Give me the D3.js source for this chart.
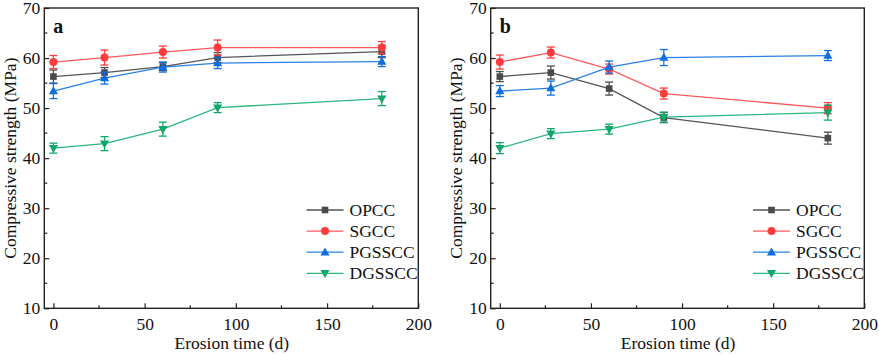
<!DOCTYPE html>
<html><head><meta charset="utf-8">
<script src="https://cdn.jsdelivr.net/npm/d3@7"></script>
<style>body{margin:0;background:#fff}svg{display:block}text{font-family:"Liberation Serif","Times New Roman",serif;fill:#111}</style>
</head><body>
<svg id="c" width="879" height="355"></svg>
<script>
const times = [0, 28, 60, 90, 180];
const seriesNames = ["OPCC", "SGCC", "PGSSCC", "DGSSCC"];
const colors = ["#4a4a4a", "#ff3b3b", "#0d6fe0", "#10a86a"];
const lineColors = ["#555555", "#ff5a5a", "#2a80e6", "#2ab77c"];
const symbols = ["square", "circle", "triUp", "triDown"];
const xTicks = [0, 50, 100, 150, 200];
const yTicks = [10, 20, 30, 40, 50, 60, 70];

// panel a
const aOPCC = [56.3, 57.1, 58.3, 60.1, 61.3];
const aSGCC = [59.2, 60.1, 61.2, 62.1, 62.1];
const aPGSSCC = [53.4, 56.0, 58.2, 59.0, 59.3];
const aDGSSCC = [42.0, 42.9, 45.8, 50.1, 51.9];
const aErrOPCC = [1.3, 1.0, 0.8, 1.0, 1.2];
const aErrSGCC = [1.3, 1.5, 1.2, 1.5, 1.2];
const aErrPGSSCC = [1.5, 1.2, 1.0, 1.1, 1.0];
const aErrDGSSCC = [1.0, 1.4, 1.4, 1.0, 1.4];
// panel b
const bOPCC = [56.3, 57.1, 53.9, 48.1, 44.0];
const bSGCC = [59.2, 61.1, 57.8, 52.9, 50.0];
const bPGSSCC = [53.4, 54.0, 58.2, 60.1, 60.5];
const bDGSSCC = [42.0, 44.9, 45.8, 48.2, 49.1];
const bErrOPCC = [1.0, 1.3, 1.3, 1.0, 1.2];
const bErrSGCC = [1.4, 1.1, 1.0, 1.1, 1.1];
const bErrPGSSCC = [1.1, 1.4, 1.2, 1.6, 1.0];
const bErrDGSSCC = [1.1, 1.0, 1.0, 1.0, 1.5];

const panels = [
  {label: "a", left: 44.3, right: 418.3, vals: [aOPCC, aSGCC, aPGSSCC, aDGSSCC], errs: [aErrOPCC, aErrSGCC, aErrPGSSCC, aErrDGSSCC], legendX: 306.5, ytitleX: 15.5},
  {label: "b", left: 490.7, right: 864.3, vals: [bOPCC, bSGCC, bPGSSCC, bDGSSCC], errs: [bErrOPCC, bErrSGCC, bErrPGSSCC, bErrDGSSCC], legendX: 753, ytitleX: 461.5}
];
const plotTop = 8, plotBottom = 308.3;
const FS = "17.5px";
const svg = d3.select("#c");

function drawSymbol(g, type, cx, cy, color) {
  if (type === "square") g.append("rect").attr("x", cx - 3.3).attr("y", cy - 3.3).attr("width", 6.6).attr("height", 6.6).attr("fill", color);
  else if (type === "circle") g.append("circle").attr("cx", cx).attr("cy", cy).attr("r", 4).attr("fill", color);
  else if (type === "triUp") g.append("path").attr("d", `M${cx},${cy-4.8}L${cx+4.6},${cy+3.2}L${cx-4.6},${cy+3.2}Z`).attr("fill", color);
  else g.append("path").attr("d", `M${cx},${cy+4.8}L${cx+4.6},${cy-3.2}L${cx-4.6},${cy-3.2}Z`).attr("fill", color);
}

panels.forEach(p => {
  const x = d3.scaleLinear().domain([-5, 200]).range([p.left, p.right]);
  const y = d3.scaleLinear().domain([10, 70]).range([plotBottom, plotTop]);
  const g = svg.append("g");

  const xa = g.append("g").attr("transform", `translate(0,${plotBottom})`)
    .call(d3.axisBottom(x).tickValues(xTicks).tickSize(-5).tickPadding(9).tickSizeOuter(0));
  const ya = g.append("g").attr("transform", `translate(${p.left},0)`)
    .call(d3.axisLeft(y).tickValues(yTicks).tickSize(-5).tickPadding(4).tickSizeOuter(0));
  [xa, ya].forEach(a => {
    a.select(".domain").remove();
    a.selectAll("line").attr("stroke", "#222").attr("stroke-width", 1.2);
    a.selectAll("text").style("font-size", FS).style("font-family", '"Liberation Serif",serif').attr("fill", "#111");
  });
  g.append("g").selectAll("line").data([25, 75, 125, 175]).join("line")
    .attr("x1", d => x(d)).attr("x2", d => x(d)).attr("y1", plotBottom).attr("y2", plotBottom - 3)
    .attr("stroke", "#222").attr("stroke-width", 1.2);
  g.append("g").selectAll("line").data([15, 25, 35, 45, 55, 65]).join("line")
    .attr("x1", p.left).attr("x2", p.left + 3).attr("y1", d => y(d)).attr("y2", d => y(d))
    .attr("stroke", "#222").attr("stroke-width", 1.2);
  g.append("rect").attr("x", p.left).attr("y", plotTop).attr("width", p.right - p.left).attr("height", plotBottom - plotTop)
    .attr("fill", "none").attr("stroke", "#222").attr("stroke-width", 1.4);

  p.vals.forEach((vals, si) => {
    const pts = times.map((t, i) => ({t, v: vals[i], e: p.errs[si][i]}));
    const line = d3.line().x(d => x(d.t)).y(d => y(d.v));
    g.append("path").datum(pts).attr("d", line).attr("fill", "none").attr("stroke", lineColors[si]).attr("stroke-width", 1.3);
  });
  p.vals.forEach((vals, si) => {
    const pts = times.map((t, i) => ({t, v: vals[i], e: p.errs[si][i]}));
    const sg = g.append("g");
    pts.forEach(d => {
      const cx = x(d.t), y1 = y(d.v + d.e), y2 = y(d.v - d.e);
      sg.append("line").attr("x1", cx).attr("x2", cx).attr("y1", y1).attr("y2", y2).attr("stroke", colors[si]).attr("stroke-width", 1.2);
      [y1, y2].forEach(yy => sg.append("line").attr("x1", cx - 4).attr("x2", cx + 4).attr("y1", yy).attr("y2", yy).attr("stroke", colors[si]).attr("stroke-width", 1.3));
      drawSymbol(sg, symbols[si], cx, y(d.v), colors[si]);
    });
  });

  g.append("text").attr("x", p.left + 9).attr("y", 33).text(p.label)
    .style("font-size", "20px").style("font-weight", "bold");

  seriesNames.forEach((n, i) => {
    const ly = 210 + i * 21.1;
    g.append("line").attr("x1", p.legendX).attr("x2", p.legendX + 37).attr("y1", ly).attr("y2", ly)
      .attr("stroke", lineColors[i]).attr("stroke-width", 1.3);
    drawSymbol(g, symbols[i], p.legendX + 18.5, ly, colors[i]);
    g.append("text").attr("x", p.legendX + 43).attr("y", ly + 6).text(n).style("font-size", FS);
  });

  g.append("text").attr("x", (x(0) + x(200)) / 2 - 4).attr("y", 349).attr("text-anchor", "middle")
    .text("Erosion time (d)").style("font-size", FS);
  g.append("text").attr("transform", `translate(${p.ytitleX},${(plotTop + plotBottom) / 2}) rotate(-90)`)
    .attr("text-anchor", "middle").text("Compressive strength (MPa)").style("font-size", FS);
});
</script>
</body></html>
